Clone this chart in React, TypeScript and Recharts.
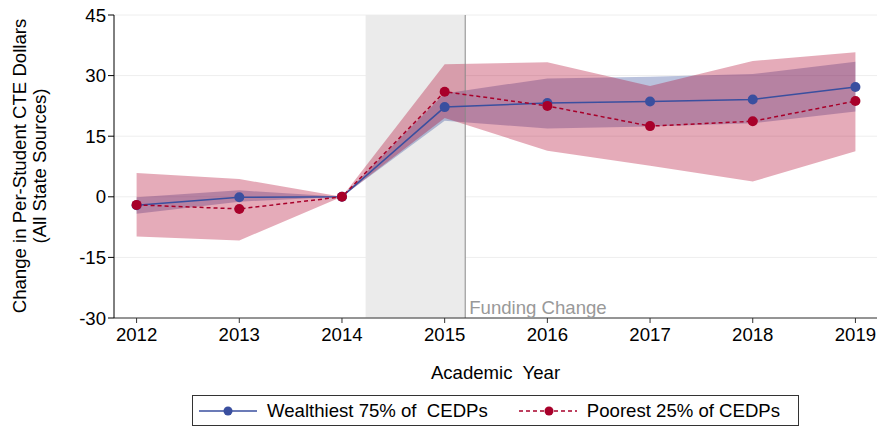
import {
  ComposedChart,
  Area,
  Line,
  XAxis,
  YAxis,
  CartesianGrid,
  ReferenceArea,
  ReferenceLine,
  Legend,
} from 'recharts';

const years = [2012, 2013, 2014, 2015, 2016, 2017, 2018, 2019];
const wealthyMean = [-2.1, -0.1, 0, 22.2, 23.2, 23.6, 24.1, 27.2];
const wealthyLo = [-4.2, -1.2, 0, 18.8, 16.9, 17.4, 18.2, 21.1];
const wealthyHi = [-0.1, 1.6, 0, 25.6, 29.3, 29.7, 30.4, 33.4];
const poorMean = [-2.0, -3.0, 0, 26.0, 22.5, 17.5, 18.7, 23.7];
const poorLo = [-9.8, -10.8, 0, 19.5, 11.4, 7.7, 3.8, 11.3];
const poorHi = [5.9, 4.4, 0, 32.8, 33.3, 27.4, 33.6, 35.8];
const yTicks = [-30, -15, 0, 15, 30, 45];

const BLUE = '#3a4f9f';
const RED = '#a8002a';
const FONT = '"Liberation Sans", Arial, sans-serif';
const FS = 18.6;

const data = years.map((y, i) => ({
  year: y,
  wealthy: wealthyMean[i],
  poor: poorMean[i],
  wealthyBand: [wealthyLo[i], wealthyHi[i]],
  poorBand: [poorLo[i], poorHi[i]],
}));

function LegendBox() {
  return (
    <div
      style={{
        position: 'absolute',
        left: 192,
        top: 395,
        width: 605,
        height: 29,
        border: '1px solid #333',
        display: 'flex',
        alignItems: 'center',
        fontFamily: FONT,
        fontSize: FS,
        color: '#000',
        background: '#fff',
      }}
    >
      <svg width={60} height={12} style={{ marginLeft: 6 }}>
        <line x1={0} y1={6} x2={58} y2={6} stroke={BLUE} strokeWidth={1.5} />
        <circle cx={29} cy={6} r={4.5} fill={BLUE} />
      </svg>
      <span style={{ marginLeft: 8, whiteSpace: 'pre' }}>Wealthiest 75% of  CEDPs</span>
      <svg width={60} height={12} style={{ marginLeft: 31 }}>
        <line x1={0} y1={6} x2={58} y2={6} stroke={RED} strokeWidth={1.5} strokeDasharray="4 3" />
        <circle cx={30} cy={6} r={4.5} fill={RED} />
      </svg>
      <span style={{ marginLeft: 8 }}>Poorest 25% of CEDPs</span>
    </div>
  );
}

function YLabel() {
  return (
    <g>
      <text
        transform="translate(26,166) rotate(-90)"
        textAnchor="middle"
        fontFamily={FONT}
        fontSize={FS}
        fill="#000"
      >
        Change in Per-Student CTE Dollars
      </text>
      <text
        transform="translate(46,166) rotate(-90)"
        textAnchor="middle"
        fontFamily={FONT}
        fontSize={FS}
        fill="#000"
      >
        (All State Sources)
      </text>
    </g>
  );
}

export default function App() {
  return (
    <div style={{ position: 'absolute', left: 0, top: 0, width: 880, height: 427, background: '#fff' }}>
      <ComposedChart
        width={880}
        height={427}
        data={data}
        margin={{ top: 15, right: 3, bottom: 0, left: 0 }}
      >
        <CartesianGrid horizontal vertical={false} stroke="#eeeeee" />
        <ReferenceArea x1={2014.23} x2={2015.2} y1={-30} y2={45} fill="#ebebeb" fillOpacity={1} stroke="none" />
        <XAxis
          dataKey="year"
          type="number"
          domain={[2011.78, 2019.21]}
          ticks={years}
          allowDataOverflow
          height={109}
          stroke="#333"
          tickSize={5}
          tick={{ fill: '#000', fontSize: FS, fontFamily: FONT, dy: 3 }}
          label={{
            value: 'Academic\u00a0 Year',
            position: 'insideTop',
            offset: 48,
            fill: '#000',
            fontSize: FS,
            fontFamily: FONT,
          }}
        />
        <YAxis
          type="number"
          domain={[-30, 45]}
          ticks={yTicks}
          width={114}
          stroke="#000"
          tickSize={6}
          tick={{ fill: '#000', fontSize: FS, fontFamily: FONT }}
          label={{ content: () => <YLabel /> }}
        />
        <Area
          dataKey="wealthyBand"
          type="linear"
          stroke="none"
          fill={BLUE}
          fillOpacity={0.35}
          isAnimationActive={false}
          activeDot={false}
        />
        <Area
          dataKey="poorBand"
          type="linear"
          stroke="none"
          fill="#b0002a"
          fillOpacity={0.33}
          isAnimationActive={false}
          activeDot={false}
        />
        <ReferenceLine
          x={2015.2}
          stroke="#888"
          strokeWidth={1}
          label={{
            value: 'Funding Change',
            position: 'insideBottomLeft',
            fill: '#999',
            fontSize: FS,
            fontFamily: FONT,
            offset: 4,
          }}
        />
        <Line
          dataKey="wealthy"
          type="linear"
          stroke={BLUE}
          strokeWidth={1.5}
          dot={{ r: 5, fill: BLUE, stroke: BLUE, strokeWidth: 0 }}
          activeDot={false}
          isAnimationActive={false}
        />
        <Line
          dataKey="poor"
          type="linear"
          stroke={RED}
          strokeWidth={1.5}
          strokeDasharray="4 3"
          dot={{ r: 5, fill: RED, stroke: RED, strokeWidth: 0, strokeDasharray: '' }}
          activeDot={false}
          isAnimationActive={false}
        />
        <Legend content={() => <LegendBox />} wrapperStyle={{ position: 'absolute', left: 0, top: 0 }} />
      </ComposedChart>
    </div>
  );
}
